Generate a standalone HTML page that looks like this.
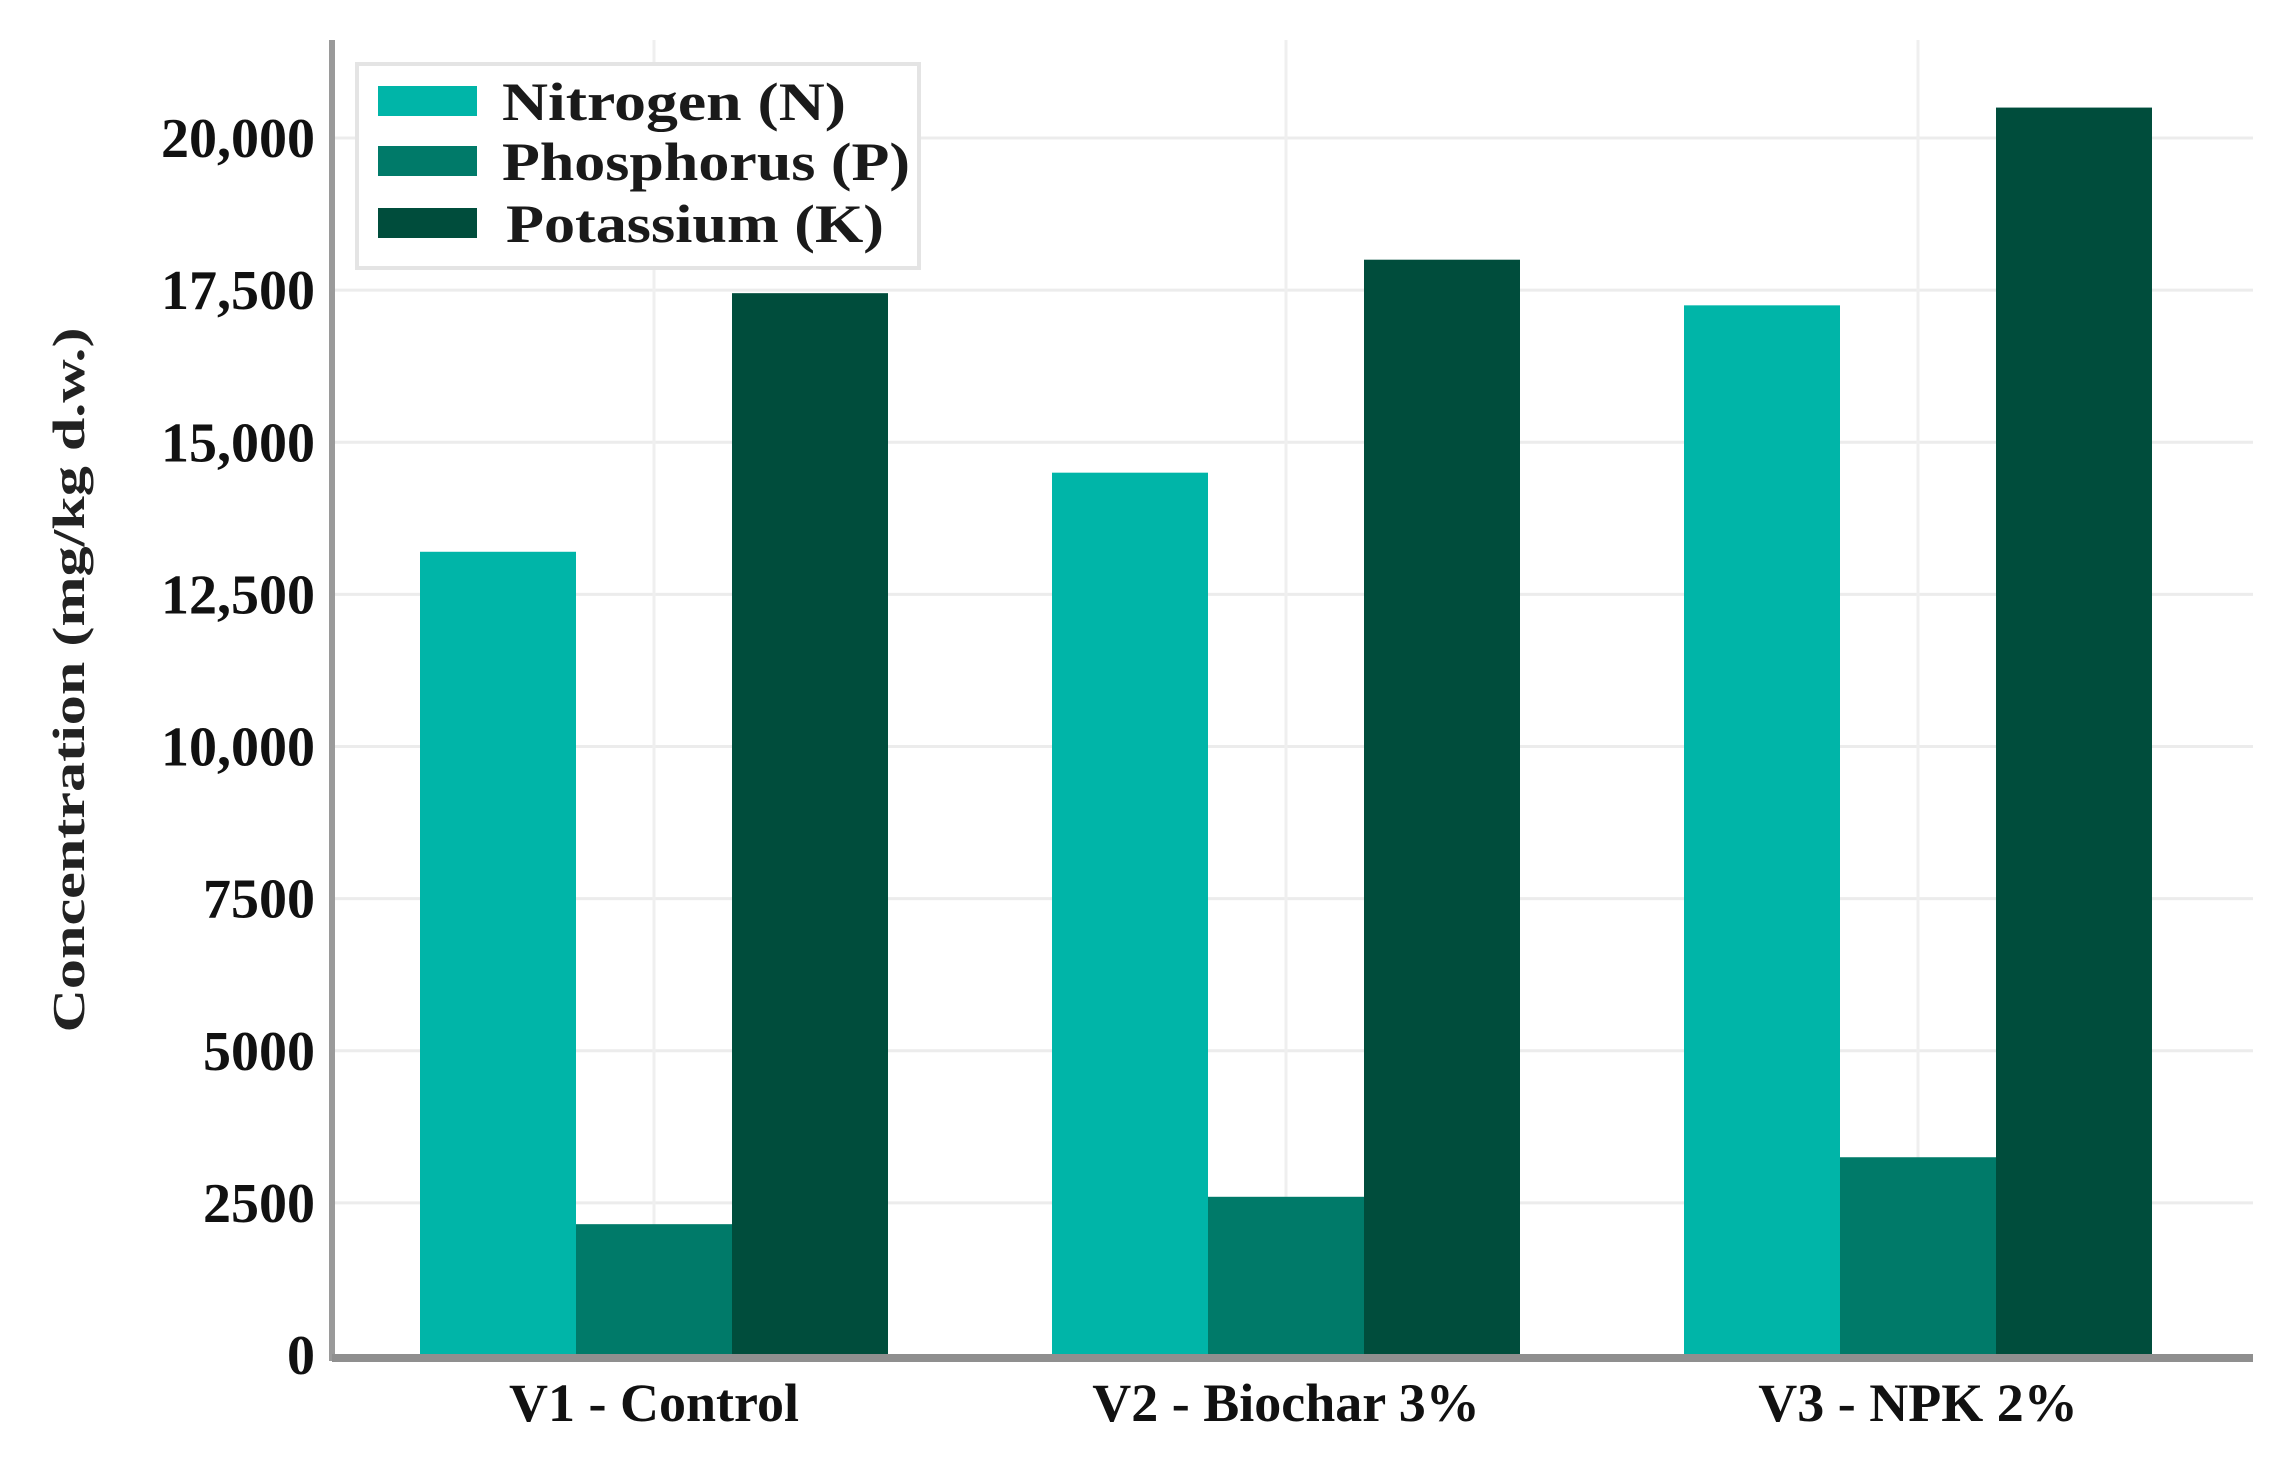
<!DOCTYPE html>
<html><head><meta charset="utf-8"><style>
html,body{margin:0;padding:0;background:#fff;}
svg{display:block;font-family:"Liberation Serif",serif;font-weight:bold;}
</style></head><body>
<svg id="chart" width="2275" height="1461" viewBox="0 0 2275 1461" xmlns="http://www.w3.org/2000/svg">
<g id="grid"></g>
<g id="bars"></g>
<g id="axes"></g>
<text transform="translate(84,680) rotate(-90)" text-anchor="middle" font-size="46" fill="#222" textLength="705" lengthAdjust="spacingAndGlyphs">Concentration (mg/kg d.w.)</text>
<g>
<rect x="357" y="64" width="562" height="204" fill="#fff" stroke="#e4e4e4" stroke-width="4"/>
<g>
<rect x="378" y="86" width="99" height="30" fill="#00b5a8"/>
<text x="502" y="120" font-size="54" fill="#1a1a1a" textLength="344" lengthAdjust="spacingAndGlyphs">Nitrogen (N)</text></g>
<g>
<rect x="378" y="146" width="99" height="30" fill="#007a69"/>
<text x="502" y="180" font-size="54" fill="#1a1a1a" textLength="408" lengthAdjust="spacingAndGlyphs">Phosphorus (P)</text></g>
<g>
<rect x="378" y="208" width="99" height="30" fill="#004d3c"/>
<text x="506" y="242" font-size="54" fill="#1a1a1a" textLength="378" lengthAdjust="spacingAndGlyphs">Potassium (K)</text></g>
</g>
</svg>
<script>
const categories = ["V1 - Control", "V2 - Biochar 3%", "V3 - NPK 2%"];
const nitrogen = [13200, 14500, 17250];
const phosphorus = [2150, 2600, 3250];
const potassium = [17450, 18000, 20500];
const yTicks = [0, 2500, 5000, 7500, 10000, 12500, 15000, 17500, 20000];
const yTickLabels = ["0", "2500", "5000", "7500", "10,000", "12,500", "15,000", "17,500", "20,000"];

const NS = "http://www.w3.org/2000/svg";
const x0 = 332, x1 = 2253, yBase = 1355, pxPer = (1355 - 138) / 20000;
const groupStart = 654, groupStep = 632, barW = 156;
function yScale(v){ return yBase - v * pxPer; }
function xCenter(i){ return groupStart + i * groupStep; }
function mk(tag, attrs, parent){ const e = document.createElementNS(NS, tag); for (const k in attrs) e.setAttribute(k, attrs[k]); parent.appendChild(e); return e; }

const grid = document.getElementById('grid'), bars = document.getElementById('bars'), axes = document.getElementById('axes');
yTicks.forEach((t, i) => {
  if (t > 0) {
    const g = mk('line', {x1: x0, x2: x1, y1: yScale(t), y2: yScale(t), stroke: '#ececec', 'stroke-width': 3}, grid);
    
    
  }
  const lb = mk('text', {x: 315, y: yScale(t) + 19, 'text-anchor': 'end', 'font-size': 56, fill: '#111'}, axes);
  lb.textContent = yTickLabels[i];
  
  
});
categories.forEach((c, i) => {
  const vg = mk('line', {x1: xCenter(i), x2: xCenter(i), y1: 40, y2: yBase, stroke: '#efefef', 'stroke-width': 3}, grid);
  
  
  const series = [[nitrogen, '#00b5a8', 'nitrogen'], [phosphorus, '#007a69', 'phosphorus'], [potassium, '#004d3c', 'potassium']];
  series.forEach((s, j) => {
    const v = s[0][i];
    const x = xCenter(i) - 1.5 * barW + j * barW;
    const r = mk('rect', {x: x, y: yScale(v), width: barW, height: yBase - yScale(v), fill: s[1]}, bars);
    
    
  });
  const t = mk('text', {x: xCenter(i), y: 1421, 'text-anchor': 'middle', 'font-size': 54, fill: '#111'}, axes);
  t.textContent = c;
  
  
});
const ya = mk('line', {x1: x0, x2: x0, y1: 40, y2: yBase + 6, stroke: '#9a9a9a', 'stroke-width': 6}, axes);


const xa = mk('line', {x1: x0, x2: x1, y1: yBase + 3, y2: yBase + 3, stroke: '#8f8f8f', 'stroke-width': 8}, axes);


</script>
</body></html>
